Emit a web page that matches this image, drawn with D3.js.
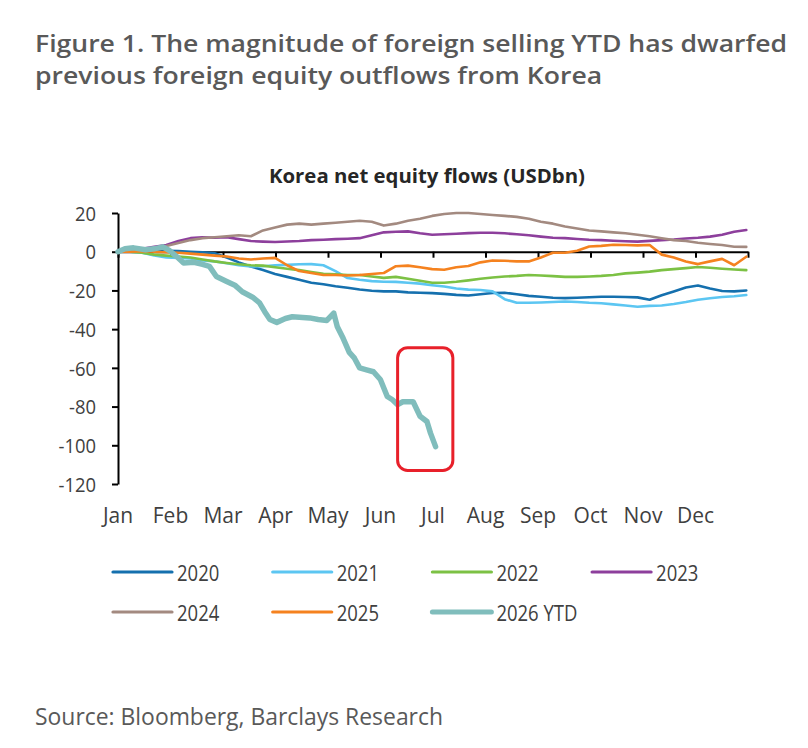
<!DOCTYPE html>
<html><head><meta charset="utf-8">
<script src="https://cdn.jsdelivr.net/npm/d3@7"></script>
<style>html,body{margin:0;padding:0;background:#fff}svg{display:block}</style>
</head><body>
<script>
// ---------- data ----------
const months = ["Jan","Feb","Mar","Apr","May","Jun","Jul","Aug","Sep","Oct","Nov","Dec"];
const yTicks = [20,0,-20,-40,-60,-80,-100,-120];
const weekDays = d3.range(53).map(i => i * 7); // weekly observation days

const s2020 = [0,0.3,0.5,0.5,0.5,0.3,0,-0.3,-0.8,-3,-5.5,-7.6,-9.5,-11.5,-13,-14.5,-16,-16.8,-17.8,-18.6,-19.5,-20.2,-20.5,-20.5,-21,-21.2,-21.4,-21.8,-22.3,-22.6,-22,-21.3,-21.2,-22,-22.8,-23.3,-23.8,-24,-23.8,-23.5,-23.3,-23.3,-23.4,-23.6,-24.8,-22.5,-20.5,-18.5,-17.5,-19,-20.3,-20.5,-20];
const s2021 = [0,0,-0.5,-2,-3,-3.2,-3.5,-4.5,-5,-6,-7,-7.6,-7.5,-7,-6.8,-6.5,-6.4,-7,-10,-13.6,-14.5,-15.2,-15.5,-15.6,-16,-16.5,-17.3,-18,-19,-19.6,-19.8,-20.5,-24.5,-26.4,-26.4,-26.2,-26,-25.7,-26,-26.4,-26.6,-27.2,-27.8,-28.4,-28,-27.8,-27,-26,-24.8,-24,-23.4,-23,-22.4];
const s2022 = [0,0,-0.5,-1.5,-2,-2.5,-3,-4,-5,-5.8,-6.5,-7,-7.2,-8,-8.8,-9.5,-10.5,-11.4,-11.7,-12,-12,-12.8,-13.5,-13,-14,-15,-16,-16,-15.5,-14.8,-14,-13.3,-12.8,-12.5,-12,-12.3,-12.6,-13,-13,-12.8,-12.5,-12,-11.2,-10.8,-10.3,-9.5,-9,-8.5,-7.9,-8.3,-8.8,-9.2,-9.5];
const s2023 = [0,0.5,1.5,2.5,3.5,5.5,7,7.5,7.2,7.5,6.5,5.5,5.2,5,5.3,5.5,6,6.2,6.5,6.7,7,8.5,10,10.3,10.5,9.5,8.8,9,9.3,9.6,9.8,9.8,9.5,9,8.5,7.8,7.2,7,6.6,6.2,6,5.7,5.4,5.2,5.6,6,6.3,6.8,7.2,7.8,8.8,10.3,11.2];
const s2024 = [0,0.5,1,1.5,3,4.5,6,7,7.5,8,8.5,8,11,12.5,14,14.5,14,14.5,15,15.5,16,15.5,13.5,14.5,16,17,18.5,19.5,20,20,19.5,19,18.5,18,17,15.5,14.5,13,12,11,10.5,10,9.5,8.8,8,7,6,5.5,4.6,4,3.5,2.6,2.5];
const s2025 = [0,0,0.3,0,-0.3,-0.5,-1,-1.5,-2,-2.5,-3.5,-4,-3.5,-3.2,-7,-10,-11,-12,-12,-12.3,-12,-11.5,-11,-7.5,-7.2,-8,-9,-9.3,-8,-7.4,-5.5,-4.5,-4.7,-5,-5,-3,-0.5,-0.5,0.5,2.7,3,3.6,3.5,3.3,3.5,-1.5,-3,-5.1,-6.4,-5,-3.7,-7,-2.6];
const days2026 = [0,4,9,16,21,26,30,34,38,44,49,53,57,63,68,72,78,82,85,88,92,97,101,107,111,116,121,125,127,130,134,137,140,144,148,152,156,159,162,165,171,175,179,181,184];
const s2026 = [0,1.5,2,1,1.5,2.5,0.5,-2.5,-5.8,-5.5,-6.5,-7.6,-12.8,-15.4,-17.5,-20.7,-23.5,-26.4,-31,-35,-36.5,-34.5,-33.6,-34,-34.2,-35,-35.5,-31.7,-38.6,-43.9,-52,-55,-60,-61,-62,-66,-74.8,-76.5,-79,-77.5,-77.5,-85,-87.7,-93.6,-100.7];

const seriesNames = ["2020","2021","2022","2023","2024","2025","2026 YTD"];
const seriesColors = ["#1570ae","#5cc6f2","#7cc144","#8d3f9c","#a38a80","#f5821f","#80bdbc"];

// annotation box (day range, value range)
const boxDays = [162, 194];
const boxVals = [-49.6, -113];

// ---------- layout ----------
const W = 808, H = 748;
const svg = d3.select("body").append("svg").attr("width", W).attr("height", H)
  .style("font-family", "'Open Sans', sans-serif");
svg.append("rect").attr("width", W).attr("height", H).attr("fill", "#fff");

const x = d3.scaleLinear().domain([0, 365]).range([118, 748]);
const y = d3.scaleLinear().domain([-120, 20]).range([484, 213]);

function squeeze(sel, factor) {
  sel.each(function() {
    const n = this.getComputedTextLength();
    d3.select(this).attr("textLength", n * factor).attr("lengthAdjust", "spacingAndGlyphs");
  });
}
function fitTo(sel, width) {
  sel.attr("textLength", width).attr("lengthAdjust", "spacingAndGlyphs");
}

// Title
const t1 = svg.append("text").attr("x", 35).attr("y", 52)
  .attr("font-size", 23).attr("font-weight", 600).attr("fill", "#595959")
  .text("Figure 1. The magnitude of foreign selling YTD has dwarfed");
const n1 = t1.node().getComputedTextLength();
const f1 = 752 / n1;
t1.attr("textLength", 752).attr("lengthAdjust", "spacingAndGlyphs");
const t2 = svg.append("text").attr("x", 35).attr("y", 84)
  .attr("font-size", 23).attr("font-weight", 600).attr("fill", "#595959")
  .text("previous foreign equity outflows from Korea");
squeeze(t2, f1);

// chart title
const ct = svg.append("text").attr("x", 427).attr("y", 183).attr("text-anchor", "middle")
  .attr("font-size", 19).attr("font-weight", 700).attr("fill", "#262626")
  .text("Korea net equity flows (USDbn)");
fitTo(ct, 316);

// y axis
const yAxis = d3.axisLeft(y).tickValues(yTicks).tickSize(6).tickSizeOuter(0).tickPadding(16)
  .tickFormat(d3.format("d"));
const gy = svg.append("g").attr("transform", `translate(${x(0)},0)`).call(yAxis);
gy.select(".domain").attr("stroke", "#000").attr("stroke-width", 2);
gy.selectAll(".tick line").attr("stroke", "#000").attr("stroke-width", 2);
gy.selectAll(".tick text").attr("font-size", 20).attr("fill", "#404040")
  .attr("font-family", "'Open Sans', sans-serif").attr("dy", "0.36em")
  .text(d => d < 0 ? "-" + Math.abs(d) : d);
squeeze(gy.selectAll(".tick text"), 0.92);

// x axis at zero
const monthStarts = d3.range(13).map(i => i * 365 / 12);
const xAxis = d3.axisBottom(x).tickValues(monthStarts).tickSize(6).tickSizeOuter(0).tickFormat("");
const gx = svg.append("g").attr("transform", `translate(0,${y(0)})`).call(xAxis);
gx.select(".domain").attr("stroke", "#000").attr("stroke-width", 2);
gx.selectAll(".tick line").attr("stroke", "#000").attr("stroke-width", 2);

// month labels
svg.append("g").selectAll("text").data(months).join("text")
  .attr("x", (d, i) => x(monthStarts[i])).attr("y", 523)
  .attr("text-anchor", "middle").attr("font-size", 21).attr("fill", "#404040")
  .text(d => d);

// lines
const line = d3.line().x(d => x(d[0])).y(d => y(d[1]));
const allSeries = [s2020, s2021, s2022, s2023, s2024, s2025].map(s => s.map((v, i) => [weekDays[i], v]));
allSeries.push(s2026.map((v, i) => [days2026[i], v]));

svg.append("g").selectAll("path").data(allSeries).join("path")
  .attr("d", line).attr("fill", "none")
  .attr("stroke", (d, i) => seriesColors[i])
  .attr("stroke-width", (d, i) => i === 6 ? 5.5 : 2.6)
  .attr("stroke-linejoin", "round").attr("stroke-linecap", "round");

// annotation box
svg.append("rect")
  .attr("x", x(boxDays[0])).attr("y", y(boxVals[0]))
  .attr("width", x(boxDays[1]) - x(boxDays[0])).attr("height", y(boxVals[1]) - y(boxVals[0]))
  .attr("rx", 10).attr("ry", 10)
  .attr("fill", "none").attr("stroke", "#e8202a").attr("stroke-width", 3);

// legend
const legend = svg.append("g");
seriesNames.forEach((name, i) => {
  const col = i % 4, row = Math.floor(i / 4);
  const lx = 113 + col * 159.7, ly = 572 + row * 40;
  legend.append("line").attr("x1", lx).attr("x2", lx + 59).attr("y1", ly).attr("y2", ly)
    .attr("stroke", seriesColors[i]).attr("stroke-width", i === 6 ? 5 : 3.2).attr("stroke-linecap", "round");
  const t = legend.append("text").attr("x", lx + 64).attr("y", ly + 8.5)
    .attr("font-size", 21).attr("fill", "#404040").text(name);
  squeeze(t, 0.88);
});

// source
const src = svg.append("text").attr("x", 35).attr("y", 725)
  .attr("font-size", 23).attr("fill", "#595959")
  .text("Source: Bloomberg, Barclays Research");
fitTo(src, 408);
</script>
</body></html>
